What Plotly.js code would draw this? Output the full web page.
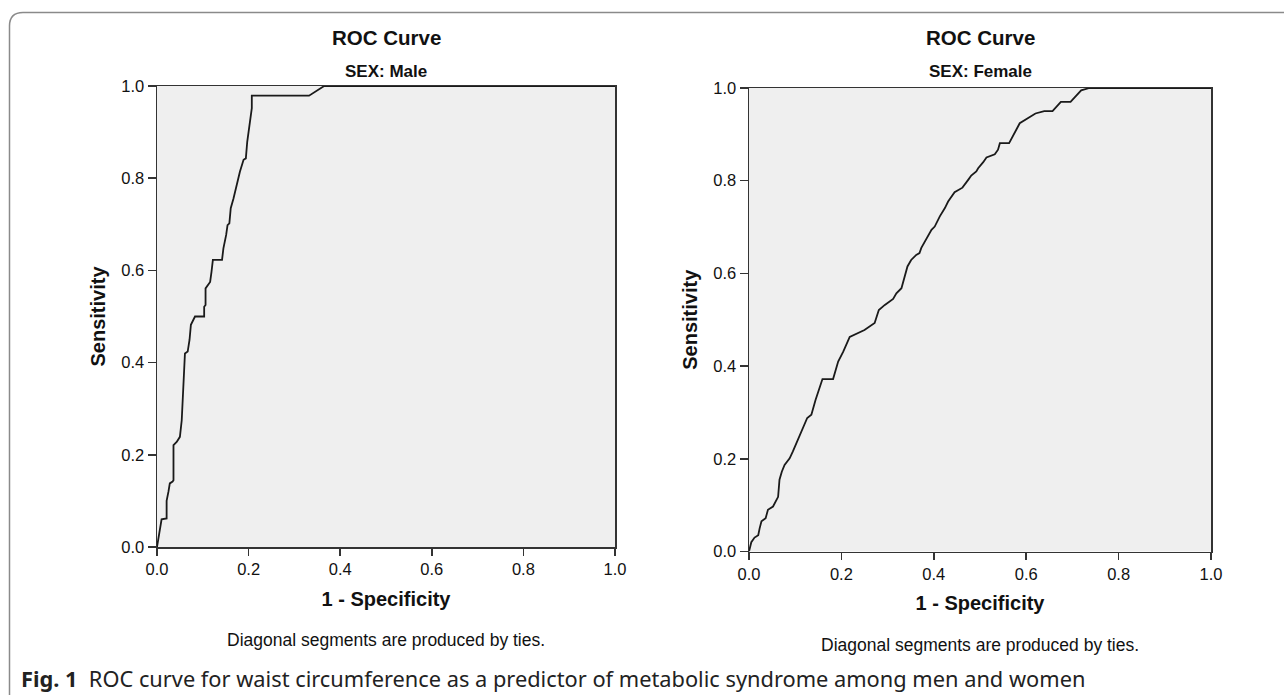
<!DOCTYPE html>
<html>
<head>
<meta charset="utf-8">
<script src="https://cdn.plot.ly/plotly-3.0.1.min.js"></script>
<style>html,body{margin:0;padding:0;background:#fff;}#chart{width:1284px;height:695px;}</style>
</head>
<body>
<div id="chart"></div>
<script>
// ---- data ----
const tickVals = [0, 0.2, 0.4, 0.6, 0.8, 1.0];
const tickLabels = ["0.0", "0.2", "0.4", "0.6", "0.8", "1.0"];

const maleFpr  = [0, 0.003, 0.006, 0.008, 0.010, 0.021, 0.021, 0.025, 0.028, 0.034, 0.036, 0.036, 0.043, 0.050, 0.054, 0.061, 0.067, 0.071, 0.074, 0.083, 0.103, 0.103, 0.106, 0.106, 0.116, 0.119, 0.122, 0.142, 0.145, 0.151, 0.154, 0.158, 0.161, 0.167, 0.174, 0.181, 0.189, 0.194, 0.197, 0.203, 0.207, 0.207, 0.332, 0.365, 1.0];
const maleSens = [0, 0.020, 0.040, 0.044, 0.060, 0.062, 0.100, 0.120, 0.138, 0.142, 0.145, 0.221, 0.228, 0.239, 0.275, 0.420, 0.424, 0.449, 0.482, 0.500, 0.500, 0.521, 0.525, 0.561, 0.575, 0.597, 0.623, 0.623, 0.648, 0.677, 0.698, 0.702, 0.735, 0.756, 0.785, 0.814, 0.840, 0.843, 0.879, 0.923, 0.952, 0.979, 0.979, 1.0, 1.0];

const femaleFpr  = [0, 0.005, 0.012, 0.020, 0.023, 0.027, 0.036, 0.041, 0.052, 0.063, 0.066, 0.068, 0.071, 0.077, 0.088, 0.095, 0.104, 0.113, 0.126, 0.135, 0.144, 0.159, 0.182, 0.193, 0.204, 0.218, 0.240, 0.250, 0.272, 0.281, 0.294, 0.312, 0.319, 0.330, 0.343, 0.351, 0.362, 0.369, 0.373, 0.395, 0.402, 0.413, 0.424, 0.431, 0.445, 0.462, 0.476, 0.481, 0.492, 0.496, 0.507, 0.514, 0.532, 0.539, 0.543, 0.563, 0.586, 0.603, 0.620, 0.639, 0.657, 0.675, 0.696, 0.719, 0.737, 1.0];
const femaleSens = [0, 0.020, 0.030, 0.035, 0.050, 0.065, 0.072, 0.090, 0.097, 0.118, 0.155, 0.165, 0.172, 0.187, 0.201, 0.216, 0.237, 0.259, 0.288, 0.295, 0.327, 0.372, 0.372, 0.410, 0.431, 0.463, 0.473, 0.478, 0.493, 0.521, 0.532, 0.545, 0.557, 0.568, 0.615, 0.629, 0.640, 0.644, 0.655, 0.694, 0.701, 0.723, 0.741, 0.755, 0.775, 0.785, 0.804, 0.811, 0.820, 0.827, 0.840, 0.850, 0.857, 0.867, 0.881, 0.881, 0.924, 0.935, 0.945, 0.950, 0.950, 0.970, 0.970, 0.995, 1.0, 1.0];

const plotTitles = ["ROC Curve", "ROC Curve"];
const subTitles = ["SEX: Male", "SEX: Female"];
const xTitle = "1 - Specificity";
const yTitle = "Sensitivity";
const footNote = "Diagonal segments are produced by ties.";
const captionBold = "Fig. 1";
const captionText = "ROC curve for waist circumference as a predictor of metabolic syndrome among men and women";

// ---- helpers (pixel -> paper, figure is 1284 x 695 with zero margins) ----
const W = 1284, H = 695;
const px = v => v / W;
const py = v => 1 - v / H;

const FONT = "Liberation Sans, Arial, sans-serif";

function axisX(domain, anchor) {
  return {
    domain: domain, anchor: anchor, range: [0, 1],
    tickvals: tickVals, ticktext: tickLabels,
    ticks: "outside", ticklen: 7, tickwidth: 1.5, tickcolor: "#333",
    showline: true, linecolor: "#333", linewidth: 1.5, mirror: true,
    showgrid: false, zeroline: false, automargin: false,
    tickfont: {family: FONT, size: 16.5, color: "#111"},
    title: {text: xTitle, standoff: 14, font: {family: FONT, size: 20, color: "#111", weight: "bold"}},
    fixedrange: true
  };
}
function axisY(domain, anchor) {
  return {
    domain: domain, anchor: anchor, range: [0, 1],
    tickvals: tickVals, ticktext: tickLabels,
    ticks: "outside", ticklen: 8, tickwidth: 1.5, tickcolor: "#333",
    showline: true, linecolor: "#333", linewidth: 1.5, mirror: true,
    showgrid: false, zeroline: false, automargin: false,
    tickfont: {family: FONT, size: 16.5, color: "#111"},
    title: {text: yTitle, standoff: 10, font: {family: FONT, size: 20, color: "#111", weight: "bold"}},
    fixedrange: true
  };
}

const traces = [
  {x: maleFpr, y: maleSens, xaxis: "x", yaxis: "y", mode: "lines", line: {color: "#1a1a1a", width: 1.8}, hoverinfo: "skip"},
  {x: femaleFpr, y: femaleSens, xaxis: "x2", yaxis: "y2", mode: "lines", line: {color: "#1a1a1a", width: 1.8}, hoverinfo: "skip"}
];

const dL = [px(157), px(615)], dR = [px(749), px(1211)];
const cL = (dL[0] + dL[1]) / 2, cR = (dR[0] + dR[1]) / 2;

const annotations = [
  {text: plotTitles[0], x: cL, y: py(37), font: {family: FONT, size: 20.5, color: "#111", weight: "bold"}},
  {text: plotTitles[1], x: cR, y: py(37), font: {family: FONT, size: 20.5, color: "#111", weight: "bold"}},
  {text: subTitles[0], x: cL, y: py(72), font: {family: FONT, size: 17, color: "#111", weight: "bold"}},
  {text: subTitles[1], x: cR, y: py(72), font: {family: FONT, size: 17, color: "#111", weight: "bold"}},
  {text: footNote, x: cL, y: py(640), font: {family: FONT, size: 17.5, color: "#111"}},
  {text: footNote, x: cR, y: py(645), font: {family: FONT, size: 17.5, color: "#111"}},
  {text: "<b>" + captionBold + "</b>  " + captionText, x: px(19), y: py(678), xanchor: "left",
   font: {family: "Noto Sans, sans-serif", size: 21.8, color: "#222"}}
].map(a => Object.assign({xref: "paper", yref: "paper", showarrow: false, xanchor: "center", yanchor: "middle"}, a));

const frame = {
  type: "path", xref: "paper", yref: "paper",
  path: `M ${px(9.5)},${py(705)} L ${px(9.5)},${py(26)} Q ${px(9.5)},${py(12.5)} ${px(23)},${py(12.5)} L ${px(1300)},${py(12.5)}`,
  line: {color: "#8a8a8a", width: 1.5}
};

const layout = {
  width: W, height: H,
  margin: {l: 0, r: 0, t: 0, b: 0},
  paper_bgcolor: "#ffffff", plot_bgcolor: "#efefef",
  showlegend: false,
  font: {family: FONT, color: "#111"},
  xaxis: axisX(dL, "y"),
  yaxis: axisY([py(547), py(86)], "x"),
  xaxis2: axisX(dR, "y2"),
  yaxis2: axisY([py(551.5), py(88)], "x2"),
  annotations: annotations,
  shapes: [frame]
};

Plotly.newPlot("chart", traces, layout, {staticPlot: true, displayModeBar: false});
</script>
</body>
</html>
